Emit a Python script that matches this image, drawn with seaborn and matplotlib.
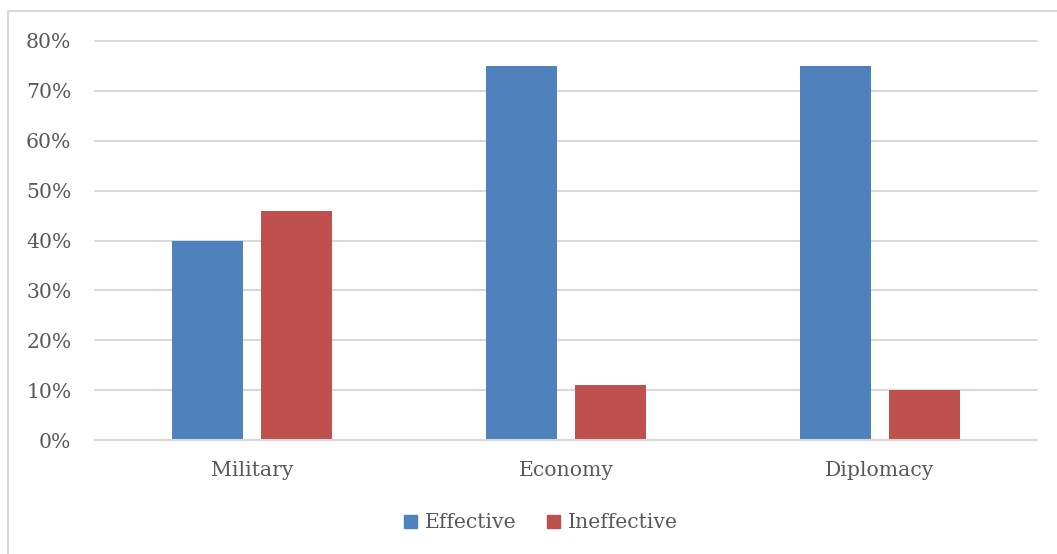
import matplotlib
matplotlib.use("Agg")
import matplotlib.pyplot as plt
import seaborn as sns
import pandas as pd
from matplotlib.lines import Line2D
from matplotlib.patches import Rectangle
from matplotlib.ticker import PercentFormatter

# Survey results: share of respondents rating each instrument
categories = ["Military", "Economy", "Diplomacy"]
series_names = ["Effective", "Ineffective"]
effective = [0.40, 0.75, 0.75]
ineffective = [0.46, 0.11, 0.10]
y_ticks = [0.0, 0.1, 0.2, 0.3, 0.4, 0.5, 0.6, 0.7, 0.8]

df = pd.DataFrame({
    "category": categories * 2,
    "series": [series_names[0]] * 3 + [series_names[1]] * 3,
    "value": effective + ineffective,
})

sns.set_theme(style="white")
plt.rcParams["font.family"] = ["DejaVu Serif"]
text_color = "#595959"
grid_color = "#D9D9D9"
palette = {"Effective": "#4F81BD", "Ineffective": "#C0504D"}
font_size = 14.7

W, H, DPI = 1057, 554, 100
fig = plt.figure(figsize=(W / DPI, H / DPI), dpi=DPI)
fig.patch.set_facecolor("white")

# light frame around the chart area (left and top edges fall inside the image)
fx, fy = 7.5 / W, 1 - 11 / H
fig.add_artist(Line2D([fx, fx], [0, fy], transform=fig.transFigure,
                      color=grid_color, linewidth=1.5))
fig.add_artist(Line2D([fx, 1], [fy, fy], transform=fig.transFigure,
                      color=grid_color, linewidth=1.5))

ax = fig.add_axes([95 / W, 1 - 440 / H, (1037 - 95) / W, (440 - 41) / H])
sns.barplot(data=df, x="category", y="value", hue="series",
            order=categories, hue_order=series_names, palette=palette,
            width=0.567, gap=0.21, saturation=1, ax=ax, legend=False,
            edgecolor="none")

ax.set_ylim(0, 0.8)
ax.set_xlim(-0.5, 2.5)
ax.set_yticks(y_ticks)
ax.yaxis.set_major_formatter(PercentFormatter(1.0, decimals=0))
ax.set_xlabel("")
ax.set_ylabel("")
ax.grid(axis="y", color=grid_color, linewidth=1.5)
for gl in ax.get_ygridlines():
    gl.set_clip_on(False)
ax.set_axisbelow(True)
for side in ["top", "right", "left"]:
    ax.spines[side].set_visible(False)
ax.spines["bottom"].set_color(grid_color)
ax.spines["bottom"].set_linewidth(1.5)
ax.tick_params(axis="both", length=0, colors=text_color, labelsize=font_size)
ax.tick_params(axis="y", pad=17)
ax.tick_params(axis="x", pad=15)

handles = [Rectangle((0, 0), 1, 1, color=palette[s]) for s in series_names]
fig.legend(handles, series_names, loc="center", bbox_to_anchor=(541 / W, 1 - 523 / H),
           ncol=2, frameon=False, fontsize=font_size, labelcolor=text_color,
           handlelength=0.62, handleheight=0.62, handletextpad=0.4,
           columnspacing=1.5)

fig.savefig("out.png", dpi=DPI, facecolor="white")
